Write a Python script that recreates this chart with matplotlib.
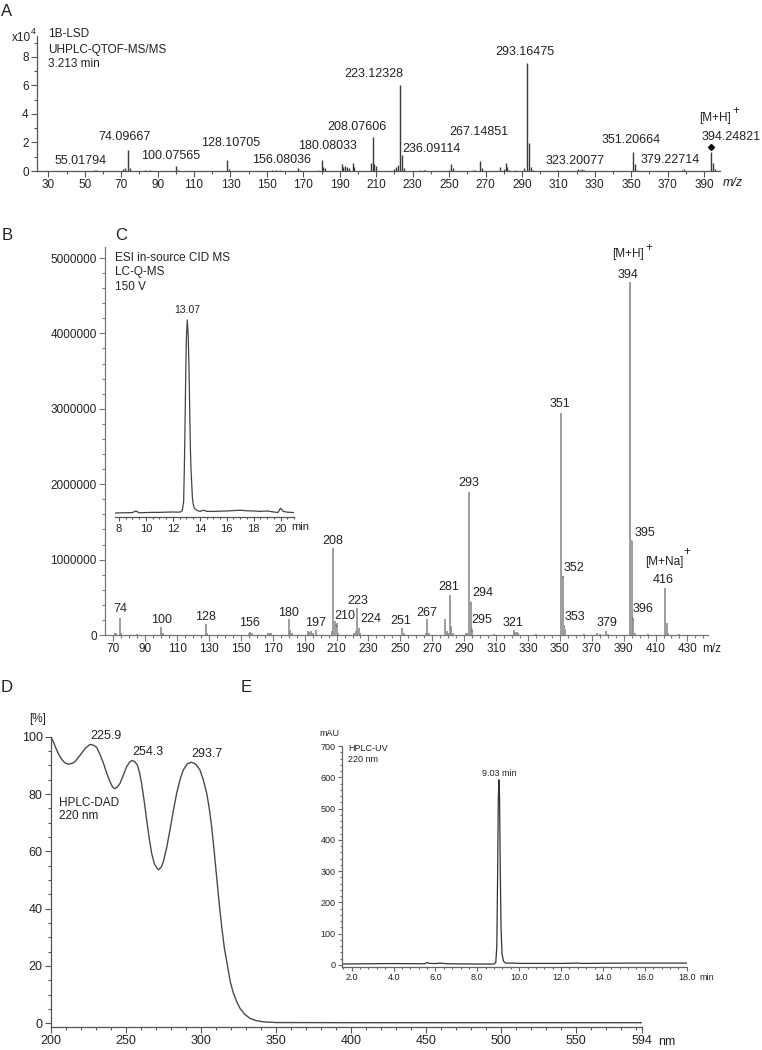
import matplotlib.pyplot as plt
from matplotlib.ticker import MultipleLocator, FixedLocator, FormatStrFormatter, FuncFormatter

plt.rcParams['font.family'] = ['Liberation Sans', 'DejaVu Sans']

W, H = 762, 1050
TXT = '#222222'
AXC = '#555555'

# ---------------- data ----------------
# A: UHPLC-QTOF-MS/MS spectrum, intensity in units of 1e4
qtof_mz = [55, 56, 71, 72, 74, 75, 83, 86, 100, 101, 128, 129, 153, 155, 157,
           167, 168, 178, 180, 181, 182, 191, 192, 193, 194, 195, 197, 198,
           207, 208, 209, 210, 220, 221, 222, 223, 224, 225, 234, 236, 237,
           250, 251, 252, 263, 264, 267, 268, 278, 280, 281, 282, 283, 286,
           291, 293, 294, 295, 296, 309, 321, 322, 323, 324, 351, 352, 353,
           378, 379, 394, 395, 396]
qtof_int = [0.06, 0.05, 0.14, 0.22, 1.47, 0.2, 0.05, 0.05, 0.35, 0.1, 0.8, 0.15,
            0.08, 0.1, 0.08, 0.2, 0.1, 0.05, 0.77, 0.26, 0.18, 0.49, 0.3, 0.35,
            0.28, 0.2, 0.58, 0.25, 0.54, 2.36, 0.5, 0.35, 0.15, 0.3, 0.45, 6.04,
            1.15, 0.2, 0.06, 0.08, 0.06, 0.1, 0.49, 0.2, 0.08, 0.08, 0.73, 0.2,
            0.25, 0.15, 0.54, 0.3, 0.1, 0.08, 0.24, 7.56, 1.99, 0.3, 0.1, 0.05,
            0.12, 0.1, 0.14, 0.1, 1.31, 0.47, 0.1, 0.1, 0.14, 1.36, 0.54, 0.15]
qtof_labels = ['55.01794', '74.09667', '100.07565', '128.10705', '156.08036',
               '180.08033', '208.07606', '223.12328', '236.09114', '267.14851',
               '293.16475', '323.20077', '351.20664', '379.22714', '394.24821']

# C: ESI in-source CID MS (LC-Q-MS), intensity in units of 1e6
esi_mz = [71, 72, 74, 75, 85, 100, 101, 128, 129, 155, 156, 157, 167, 168, 169,
          180, 181, 182, 192, 193, 194, 195, 197, 207, 208, 209, 210, 211, 221,
          222, 223, 224, 225, 251, 252, 266, 267, 268, 278, 279, 280, 281, 282,
          283, 291, 292, 293, 294, 295, 309, 321, 322, 323, 324, 335, 351, 352,
          353, 365, 373, 375, 379, 380, 394, 395, 396, 397, 405, 416, 417, 418,
          425]
esi_int = [0.03, 0.03, 0.22, 0.03, 0.01, 0.1, 0.02, 0.15, 0.03, 0.02, 0.04, 0.03,
           0.02, 0.02, 0.02, 0.21, 0.06, 0.02, 0.05, 0.04, 0.05, 0.03, 0.06, 0.05,
           1.16, 0.18, 0.16, 0.03, 0.03, 0.05, 0.36, 0.08, 0.02, 0.09, 0.03, 0.02,
           0.21, 0.03, 0.21, 0.05, 0.02, 0.53, 0.12, 0.02, 0.03, 0.02, 1.90, 0.43,
           0.07, 0.01, 0.06, 0.04, 0.04, 0.03, 0.01, 2.94, 0.78, 0.08, 0.01, 0.02,
           0.01, 0.05, 0.01, 4.68, 1.25, 0.21, 0.03, 0.01, 0.62, 0.16, 0.02, 0.01]

# C inset: TIC chromatogram (relative intensity, %)
tic_t = [7.7, 8.5, 9.0, 9.25, 9.5, 10.0, 10.5, 11.0, 11.5, 12.0, 12.4, 12.6, 12.7,
         12.8, 12.85, 12.9, 12.95, 13.0, 13.07, 13.14, 13.2, 13.25, 13.3, 13.35,
         13.45, 13.5, 13.6, 13.8, 14.0, 14.3, 14.5, 15.0, 15.5, 16.0, 16.5, 17.0,
         17.5, 18.0, 18.5, 19.0, 19.5, 19.8, 20.0, 20.2, 20.5, 21.0]
tic_i = [2.2, 2.3, 2.4, 3.2, 2.3, 2.4, 2.5, 2.5, 2.6, 2.7, 2.6, 2.8, 3.5, 8, 24,
         45, 70, 90, 100, 92, 75, 55, 35, 24, 10, 7, 4.5, 3.5, 3.0, 3.6, 3.0,
         3.0, 3.1, 3.2, 3.4, 3.6, 3.3, 3.2, 3.0, 3.2, 2.7, 2.4, 4.6, 3.0, 2.6, 2.4]

# D: UV spectrum (HPLC-DAD), %
uv_nm = [200, 201.5, 203, 205, 207, 209, 211.5, 214, 216, 218, 220.5, 223, 226,
         228, 230.4, 232.5, 235, 237, 239.3, 241, 242.2, 244, 246, 248, 250.4,
         252.5, 254.3, 256, 257.6, 259, 260.4, 262, 263.8, 265.5, 267.1, 269,
         271.6, 273.5, 274.9, 277, 279.3, 281.5, 283.8, 286, 288.2, 291, 293.7,
         296.5, 299.3, 301.5, 303.8, 305.5, 307.1, 308.8, 310.4, 312, 313.8,
         315.5, 317.5, 319.5, 321.6, 324, 326, 329, 332.7, 337, 341.6, 350, 400,
         500, 594]
uv_pct = [100, 98.3, 96.3, 94, 92.2, 91, 90.4, 90.7, 91.3, 92.6, 94.3, 96, 97.3,
          97.1, 96.3, 94, 90.7, 87.5, 84.3, 82.5, 81.9, 82.3, 83.7, 86.3, 89.5,
          91.2, 91.7, 91.2, 90.1, 87.5, 83.7, 78, 70.9, 64.5, 59.3, 55.5, 53.5,
          54.5, 56.4, 61, 67.4, 74, 80.3, 85, 88.4, 90.6, 91.1, 90.4, 88.4, 85,
          80.3, 75, 68.6, 60, 51.2, 42.5, 33.7, 26.5, 20.5, 14.5, 10.5, 7.3, 5.2,
          3.2, 1.7, 0.9, 0.5, 0.25, 0.2, 0.2, 0.2]
uv_labels = ['225.9', '254.3', '293.7']

# E: HPLC-UV chromatogram, mAU
hplc_t = [1.52, 2.0, 3.0, 4.0, 5.0, 5.5, 5.6, 5.7, 6.0, 6.25, 6.5, 7.0, 8.0, 8.8,
          8.88, 8.93, 8.97, 9.0, 9.03, 9.06, 9.09, 9.13, 9.18, 9.25, 9.35, 9.5,
          9.8, 10.0, 11.0, 12.0, 12.8, 13.0, 14.0, 15.0, 16.0, 17.0, 18.0]
hplc_mau = [3, 3.5, 4, 4.5, 4, 4, 8, 5, 4.5, 6, 4, 3.5, 3, 3, 8, 60, 300, 530,
            592, 540, 330, 120, 35, 12, 6, 6, 6, 5, 5, 5, 6, 5, 5.5, 6, 6, 6, 6]


def rect(l, t, r, b):
    return [l / W, 1 - b / H, (r - l) / W, (b - t) / H]


def ftext(x, y, s, **kw):
    kw.setdefault('color', TXT)
    fig.text(x / W, 1 - y / H, s, **kw)


def style(ax, color=AXC, size=8):
    for s in ['top', 'right']:
        ax.spines[s].set_visible(False)
    for s in ['left', 'bottom']:
        ax.spines[s].set_color(color)
        ax.spines[s].set_linewidth(0.9)
    ax.tick_params(which='both', direction='out', colors=color,
                   labelcolor=TXT, labelsize=size, width=0.8)
    ax.tick_params(which='major', length=4)
    ax.tick_params(which='minor', length=2.5)
    ax.patch.set_alpha(0)


fig = plt.figure(figsize=(W / 100, H / 100), dpi=100)

# ---------------- A ----------------
ax = fig.add_axes(rect(37, 35.6, 720, 171))
style(ax)
ax.vlines(qtof_mz, 0, qtof_int, color='#3a3a3a', lw=1.0)
ax.set_xlim(23.8, 398.7)
ax.set_ylim(0, 9.5)
ax.xaxis.set_major_locator(FixedLocator(range(30, 391, 20)))
ax.xaxis.set_minor_locator(FixedLocator(range(30, 391, 10)))
ax.yaxis.set_major_locator(FixedLocator([0, 2, 4, 6, 8]))
ax.yaxis.set_minor_locator(FixedLocator([1, 3, 5, 7, 9]))
ax.tick_params(axis='both', labelsize=8.5, pad=2)
ia = qtof_mz.index(394)
ax.plot(394, qtof_int[ia] + 0.3, marker='D', ms=3, color='k')
a_pos = [(47.5, 0.7), (72, 2.4), (97, 1.05), (130, 1.95), (158, 0.77),
         (183, 1.75), (199.5, 3.1), (208.7, 6.8), (240.4, 1.54), (266.6, 2.75),
         (291.7, 8.35), (319, 0.7), (349.7, 2.2), (371.5, 0.77), (404.9, 2.4)]
for lab, (x, y) in zip(qtof_labels, a_pos):
    ax.text(x, y, lab, ha='center', va='center', fontsize=9, color=TXT)
ax.text(396, 3.7, '[M+H]', ha='center', va='center', fontsize=8.5, color=TXT)
ax.annotate('+', (396, 3.7), xytext=(15, 5), textcoords='offset points',
            ha='center', va='center', fontsize=8.5, color=TXT)
ftext(733, 183, 'm/z', ha='center', va='center', fontsize=9, style='italic')
ftext(21.5, 38, 'x10', ha='center', va='center', fontsize=8.5)
ftext(33.5, 31.5, '4', ha='center', va='center', fontsize=6.5)
ftext(48, 34, '1B-LSD', ha='left', va='center', fontsize=8.5)
ftext(48, 49.5, 'UHPLC-QTOF-MS/MS', ha='left', va='center', fontsize=8.5)
ftext(48, 64, '3.213 min', ha='left', va='center', fontsize=8.5)
ftext(7, 11, 'A', ha='center', va='center', fontsize=12)

# ---------------- C ----------------
ax = fig.add_axes(rect(105, 246.7, 708, 635))
style(ax, color='#777777')
ax.vlines(esi_mz, 0, [v * 1e6 for v in esi_int], color='#8c8c8c', lw=1.2)
ax.set_xlim(64.8, 442.9)
ax.set_ylim(0, 5.15e6)
ax.xaxis.set_major_locator(FixedLocator(range(70, 431, 20)))
ax.xaxis.set_minor_locator(FixedLocator(range(70, 441, 5)))
ax.yaxis.set_major_locator(MultipleLocator(1e6))
ax.yaxis.set_minor_locator(MultipleLocator(2e5))
ax.yaxis.set_major_formatter(FuncFormatter(lambda v, p: '%d' % round(v)))
ax.tick_params(axis='both', labelsize=8.5, pad=2)

c_labels = [('74', 74.6, 0.34, None), ('100', 100.1, 0.2, None),
            ('128', 127.9, 0.24, None), ('156', 155.7, 0.155, None),
            ('180', 180.0, 0.29, None), ('197', 197.1, 0.155, None),
            ('208', 207.9, 1.25, None), ('210', 215.3, 0.25, (210, 0.11)),
            ('223', 223.0, 0.45, None), ('224', 231.4, 0.21, (224, 0.08)),
            ('251', 250.4, 0.18, None), ('267', 266.5, 0.29, None),
            ('281', 280.5, 0.64, None), ('293', 292.6, 2.01, None),
            ('294', 302.0, 0.56, (294, 0.42)), ('295', 301.3, 0.2, (295, 0.05)),
            ('321', 320.4, 0.155, None), ('351', 350.1, 3.06, None),
            ('352', 359.0, 0.89, (352, 0.76)), ('353', 359.5, 0.24, (353, 0.09)),
            ('379', 379.3, 0.155, None), ('394', 392.9, 4.78, None),
            ('395', 403.4, 1.35, (395, 1.25)), ('396', 401.9, 0.35, (396, 0.2)),
            ('416', 414.8, 0.73, None)]
for lab, x, y, att in c_labels:
    if att is None:
        ax.text(x, y * 1e6, lab, ha='center', va='center', fontsize=9, color=TXT)
    else:
        ax.annotate(lab, (att[0], att[1] * 1e6), xytext=(x, y * 1e6),
                    ha='center', va='center', fontsize=9, color=TXT,
                    arrowprops=dict(arrowstyle='-', color='#555555', lw=0.6,
                                    relpos=(0.0, 0.15), shrinkA=0, shrinkB=0))
ax.text(392.9, 5.05e6, '[M+H]', ha='center', va='center', fontsize=8.5, color=TXT)
ax.annotate('+', (392.9, 5.05e6), xytext=(15, 4.5), textcoords='offset points',
            ha='center', va='center', fontsize=8.5, color=TXT)
ax.text(415.3, 0.97e6, '[M+Na]', ha='center', va='center', fontsize=8.5, color=TXT)
ax.annotate('+', (415.3, 0.97e6), xytext=(16.5, 7), textcoords='offset points',
            ha='center', va='center', fontsize=8.5, color=TXT)
ftext(711.7, 649.3, 'm/z', ha='center', va='center', fontsize=8.5)
ftext(115, 257.7, 'ESI in-source CID MS', ha='left', va='center', fontsize=8.5)
ftext(115, 272.5, 'LC-Q-MS', ha='left', va='center', fontsize=8.5)
ftext(115, 287, '150 V', ha='left', va='center', fontsize=8.5)
ftext(7, 235, 'B', ha='center', va='center', fontsize=12)
ftext(121, 235, 'C', ha='center', va='center', fontsize=12)

# C inset chromatogram
ax = fig.add_axes(rect(115, 318, 294, 517.3))
style(ax, color='#555555')
ax.spines['left'].set_visible(False)
ax.set_yticks([])
ax.plot(tic_t, tic_i, color='#444444', lw=0.9)
ax.set_xlim(7.7, 21.0)
ax.set_ylim(0, 101)
ax.xaxis.set_major_locator(FixedLocator(range(8, 21, 2)))
ax.xaxis.set_minor_locator(MultipleLocator(0.5))
ax.tick_params(axis='x', which='major', length=3, labelsize=8, pad=2)
ax.tick_params(axis='x', which='minor', length=1.5)
ax.text(13.07, 105, '13.07', ha='center', va='center', fontsize=7.5, color=TXT)
ftext(300, 526.5, 'min', ha='center', va='center', fontsize=8)

# ---------------- D ----------------
ax = fig.add_axes(rect(51, 736.7, 642, 1026.7))
style(ax)
ax.plot(uv_nm, uv_pct, color='#4a4a4a', lw=1.0)
ax.set_xlim(200, 594)
ax.set_ylim(-1.2, 100)
ax.xaxis.set_major_locator(FixedLocator([200, 250, 300, 350, 400, 450, 500, 550, 594]))
ax.xaxis.set_minor_locator(FixedLocator(range(200, 591, 10)))
ax.yaxis.set_major_locator(FixedLocator([0, 20, 40, 60, 80, 100]))
ax.yaxis.set_minor_locator(MultipleLocator(5))
ax.tick_params(axis='both', labelsize=9, pad=2)
d_pos = [(236.5, 100.2), (264.9, 94.8), (303.8, 94.0)]
for lab, (x, y) in zip(uv_labels, d_pos):
    ax.text(x, y, lab, ha='center', va='center', fontsize=9, color=TXT)
ftext(37.3, 719.3, '[%]', ha='center', va='center', fontsize=8.5)
ftext(666.7, 1041.7, 'nm', ha='center', va='center', fontsize=9)
ftext(59.3, 802.5, 'HPLC-DAD', ha='left', va='center', fontsize=8.5)
ftext(59.3, 816, '220 nm', ha='left', va='center', fontsize=8.5)
ftext(7, 687, 'D', ha='center', va='center', fontsize=12)
ftext(246, 687, 'E', ha='center', va='center', fontsize=12)

# ---------------- E ----------------
ax = fig.add_axes(rect(341.7, 746, 686.7, 966.7))
style(ax, color='#666666')
ax.plot(hplc_t, hplc_mau, color='#333333', lw=0.9)
ax.set_xlim(1.52, 18.0)
ax.set_ylim(-5.5, 700)
ax.xaxis.set_major_locator(FixedLocator(range(2, 19, 2)))
ax.xaxis.set_minor_locator(MultipleLocator(0.4))
ax.xaxis.set_major_formatter(FormatStrFormatter('%.1f'))
ax.yaxis.set_major_locator(MultipleLocator(100))
ax.yaxis.set_minor_locator(MultipleLocator(20))
ax.tick_params(axis='both', labelsize=6.5, pad=1.5)
ax.tick_params(which='major', length=3)
ax.tick_params(which='minor', length=1.5)
ax.text(9.05, 612, '9.03 min', ha='center', va='center', fontsize=6.5, color=TXT)
ftext(706.5, 977.5, 'min', ha='center', va='center', fontsize=6.5)
ftext(329.5, 734, 'mAU', ha='center', va='center', fontsize=6.5)
ftext(348.5, 748.5, 'HPLC-UV', ha='left', va='center', fontsize=6.5)
ftext(348.5, 760, '220 nm', ha='left', va='center', fontsize=6.5)

fig.savefig('out.png', dpi=100, facecolor='white')
